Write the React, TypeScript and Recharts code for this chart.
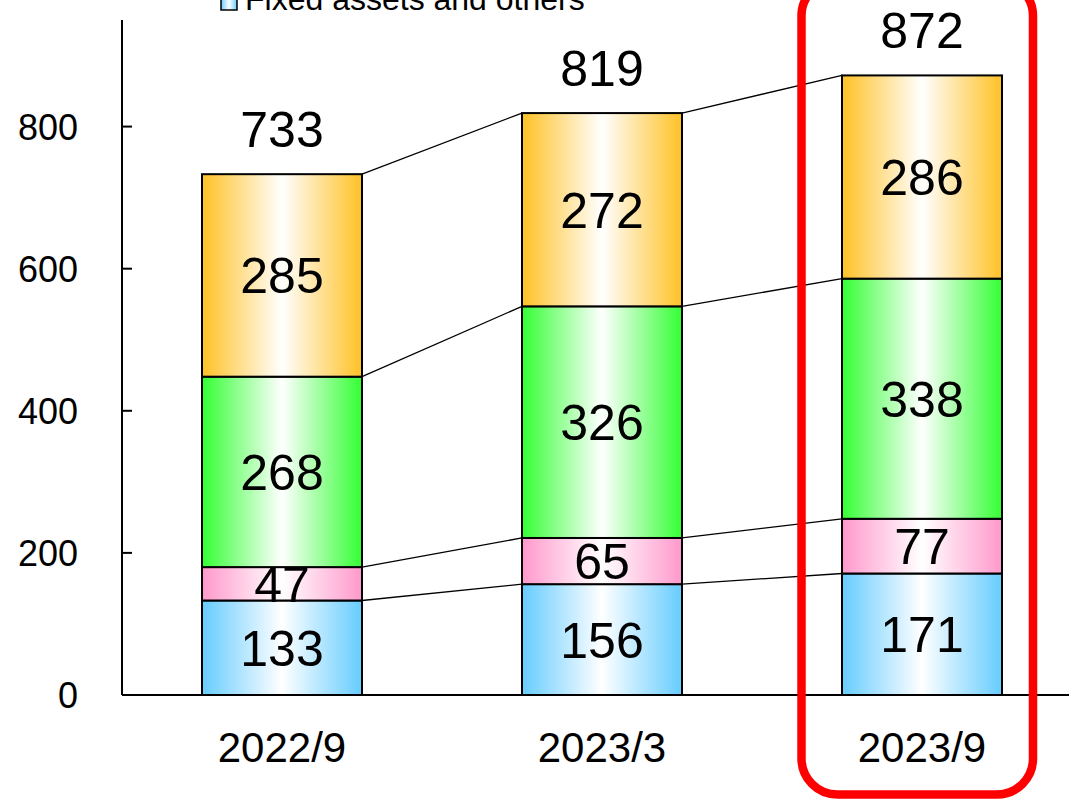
import React from 'react';
import { ComposedChart, Bar, XAxis, YAxis, LabelList } from 'recharts';

const categories = ['2022/9', '2023/3', '2023/9'];
const fixedAssets = [133, 156, 171];
const seriesPink = [47, 65, 77];
const seriesGreen = [268, 326, 338];
const seriesOrange = [285, 272, 286];
const yTicks = [0, 200, 400, 600, 800];
const legendLabel = 'Fixed assets and others';

const data = categories.map((c, i) => ({
  name: c,
  fixed: fixedAssets[i],
  pink: seriesPink[i],
  green: seriesGreen[i],
  orange: seriesOrange[i],
  total: fixedAssets[i] + seriesPink[i] + seriesGreen[i] + seriesOrange[i],
}));

const FONT = '"Liberation Sans", Arial, sans-serif';

const registry: Record<string, { x: number; y: number; w: number }[]> = {};

function makeShape(key: string, fillId: string) {
  return (props: any) => {
    const { x, y, width, height, index } = props;
    const reg = registry[key] || (registry[key] = []);
    reg[index] = { x, y, w: width };
    const prev = index > 0 ? reg[index - 1] : null;
    return (
      <g>
        <rect x={x} y={y} width={width} height={height} fill={`url(#${fillId})`} stroke="#000" strokeWidth={2} />
        {prev && (
          <line x1={prev.x + prev.w} y1={prev.y} x2={x} y2={y} stroke="#000" strokeWidth={1.3} />
        )}
      </g>
    );
  };
}

const segLabel = (props: any) => {
  const { x, y, width, height, value } = props;
  return (
    <text x={x + width / 2} y={y + height / 2} dy="0.36em" textAnchor="middle" fontSize={50} fontFamily={FONT} fill="#000">
      {value}
    </text>
  );
};

const totalLabel = (props: any) => {
  const { x, y, width, index } = props;
  return (
    <text x={x + width / 2} y={y - 45} dy="0.36em" textAnchor="middle" fontSize={50} fontFamily={FONT} fill="#000">
      {data[index].total}
    </text>
  );
};

const YTick = (props: any) => {
  const { x, y, payload } = props;
  return (
    <g>
      <line x1={x} y1={y} x2={x + 10} y2={y} stroke="#000" strokeWidth={2} />
      <text x={x - 44} y={y} dy="0.36em" textAnchor="end" fontSize={36} fontFamily={FONT} fill="#000">
        {payload.value}
      </text>
    </g>
  );
};

const XTick = (props: any) => {
  const { x, y, payload } = props;
  return (
    <text x={x} y={y + 67} textAnchor="middle" fontSize={42} fontFamily={FONT} fill="#000">
      {payload.value}
    </text>
  );
};

function grad(id: string, color: string) {
  return (
    <linearGradient id={id} x1="0" y1="0" x2="1" y2="0">
      <stop offset="0" stopColor={color} />
      <stop offset="0.5" stopColor="#ffffff" />
      <stop offset="1" stopColor={color} />
    </linearGradient>
  );
}

export default function App() {
  return (
    <div style={{ position: 'fixed', left: 0, top: 0, width: 1069, height: 800, overflow: 'hidden', background: '#fff' }}>
      <ComposedChart
        width={1100}
        height={800}
        data={data}
        margin={{ top: 20, right: 18, left: 0, bottom: 45 }}
        barCategoryGap="25%"
      >
        <defs>
          {grad('gBlue', '#66CCFF')}
          {grad('gPink', '#FF99CC')}
          {grad('gGreen', '#33FF33')}
          {grad('gOrange', '#FFC125')}
        </defs>
        <XAxis
          dataKey="name"
          axisLine={{ stroke: '#000', strokeWidth: 2 }}
          tickLine={false}
          tickSize={0}
          tickMargin={0}
          height={60}
          tick={<XTick />}
          interval={0}
        />
        <YAxis
          width={122}
          domain={[0, 950]}
          ticks={yTicks}
          axisLine={{ stroke: '#000', strokeWidth: 2 }}
          tickLine={false}
          tickSize={0}
          tickMargin={0}
          tick={<YTick />}
          allowDataOverflow
        />
        <Bar dataKey="fixed" name={legendLabel} stackId="a" isAnimationActive={false} shape={makeShape('fixed', 'gBlue')}>
          <LabelList dataKey="fixed" content={segLabel} />
        </Bar>
        <Bar dataKey="pink" stackId="a" isAnimationActive={false} shape={makeShape('pink', 'gPink')}>
          <LabelList dataKey="pink" content={segLabel} />
        </Bar>
        <Bar dataKey="green" stackId="a" isAnimationActive={false} shape={makeShape('green', 'gGreen')}>
          <LabelList dataKey="green" content={segLabel} />
        </Bar>
        <Bar dataKey="orange" stackId="a" isAnimationActive={false} shape={makeShape('orange', 'gOrange')}>
          <LabelList dataKey="orange" content={segLabel} />
          <LabelList dataKey="total" content={totalLabel} />
        </Bar>
      </ComposedChart>
      <svg width={1069} height={800} style={{ position: 'absolute', left: 0, top: 0, pointerEvents: 'none' }}>
        <defs>{grad('gLegend', '#66CCFF')}</defs>
        <rect x={221} y={-7} width={16} height={17} fill="url(#gLegend)" stroke="#000" strokeWidth={1.5} />
        <text x={245} y={10} fontSize={32} fontFamily={FONT} fill="#000">{legendLabel}</text>
        <rect x={801.5} y={-20} width={231.5} height={814.5} rx={36} ry={36} fill="none" stroke="#FF0000" strokeWidth={8.5} />
      </svg>
    </div>
  );
}
